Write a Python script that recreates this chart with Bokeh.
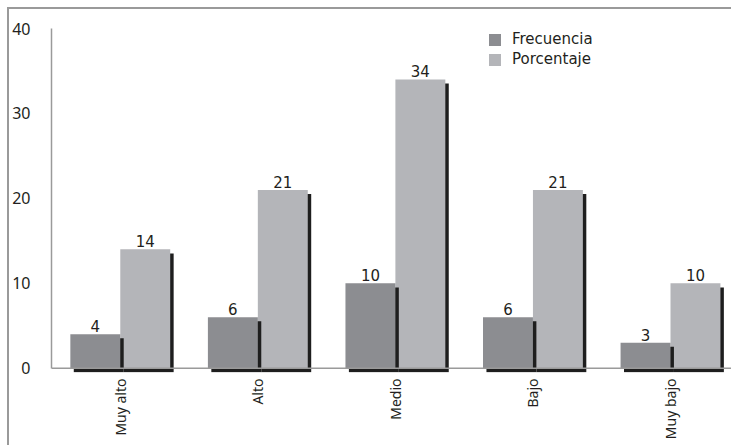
import numpy as np
from bokeh.plotting import figure
from bokeh.models import Range1d, FixedTicker, Span, Legend, LegendItem, ColumnDataSource
from bokeh.core.properties import value
from bokeh.embed import file_html
from bokeh.resources import INLINE

categories = ["Muy alto", "Alto", "Medio", "Bajo", "Muy bajo"]
frecuencia = [4, 6, 10, 6, 3]
porcentaje = [14, 21, 34, 21, 10]
y_ticks = [0, 10, 20, 30, 40]

xs = np.arange(len(categories)) + 0.5
bw = 0.363
sx = 0.025   # shadow offset (data units, x)
sy = 0.48    # shadow offset (data units, y)

FREQ_C = "#8c8d91"
PORC_C = "#b4b5b9"
SHADOW_C = "#1e1e1e"
TEXT_C = "#231f20"
AXIS_C = "#9a9a9a"

src = ColumnDataSource(dict(
    xf=xs - bw / 2, xp=xs + bw / 2,
    xfs=xs - bw / 2 + sx, xps=xs + bw / 2 + sx,
    f=frecuencia, p=porcentaje,
    fs=[v - sy for v in frecuencia], ps=[v - sy for v in porcentaje],
    fl=[str(v) for v in frecuencia], pl=[str(v) for v in porcentaje],
))

p = figure(width=724, height=438, output_backend="svg", toolbar_location=None,
           x_range=Range1d(0, 4.958), y_range=Range1d(-0.5, 40),
           min_border_left=41, min_border_top=19, min_border_right=0, min_border_bottom=75)
p.margin = (7, 0, 0, 7)
p.styles = {"border-left": "2px solid #9a9a9a", "border-top": "2px solid #9a9a9a"}
p.outline_line_color = None
p.xgrid.visible = False
p.ygrid.visible = False

# porcentaje shadow + bar
p.vbar(x="xps", top="ps", bottom=-sy, width=bw, source=src, fill_color=SHADOW_C, line_color=None)
rp = p.vbar(x="xp", top="p", bottom=0, width=bw, source=src, fill_color=PORC_C, line_color=None)
# frecuencia shadow + bar
p.vbar(x="xfs", top="fs", bottom=-sy, width=bw, source=src, fill_color=SHADOW_C, line_color=None)
rf = p.vbar(x="xf", top="f", bottom=0, width=bw, source=src, fill_color=FREQ_C, line_color=None)

p.add_layout(Span(location=0, dimension="width", line_color=AXIS_C, line_width=1.5))

p.text(x="xf", y="f", text="fl", source=src, text_align="center", text_baseline="alphabetic",
       y_offset=-8, text_font=value("DejaVu Sans"), text_font_size="15px", text_color=TEXT_C)
p.text(x="xp", y="p", text="pl", source=src, text_align="center", text_baseline="alphabetic",
       y_offset=-8, text_font=value("DejaVu Sans"), text_font_size="15px", text_color=TEXT_C)

# axes
xa = p.xaxis[0]
xa.ticker = FixedTicker(ticks=list(xs))
xa.major_label_overrides = {float(x): c for x, c in zip(xs, categories)}
xa.major_label_orientation = np.pi / 2
xa.axis_line_color = None
xa.major_tick_line_color = None
xa.minor_tick_line_color = None
xa.major_tick_out = 0
xa.major_tick_in = 0
xa.major_label_standoff = 6
xa.major_label_text_font = "Noto Sans"
xa.major_label_text_font_size = "14px"
xa.major_label_text_color = TEXT_C

ya = p.yaxis[0]
ya.ticker = FixedTicker(ticks=y_ticks)
ya.bounds = (0, 40)
ya.axis_line_color = AXIS_C
ya.axis_line_width = 1.5
ya.major_tick_line_color = None
ya.minor_tick_line_color = None
ya.major_tick_out = 0
ya.major_tick_in = 0
ya.major_label_standoff = 21
ya.major_label_text_font = "Noto Sans"
ya.major_label_text_font_size = "16px"
ya.major_label_text_color = TEXT_C

legend = Legend(items=[LegendItem(label="Frecuencia", renderers=[rf]),
                       LegendItem(label="Porcentaje", renderers=[rp])],
                location=(436, 304), padding=0, margin=0, spacing=2,
                glyph_width=15, glyph_height=15, label_height=15, label_standoff=10,
                label_text_font="DejaVu Sans", label_text_font_size="15px",
                label_text_color=TEXT_C, background_fill_alpha=0, border_line_color=None)
p.add_layout(legend)

open("out.html", "w").write(file_html(p, INLINE))
